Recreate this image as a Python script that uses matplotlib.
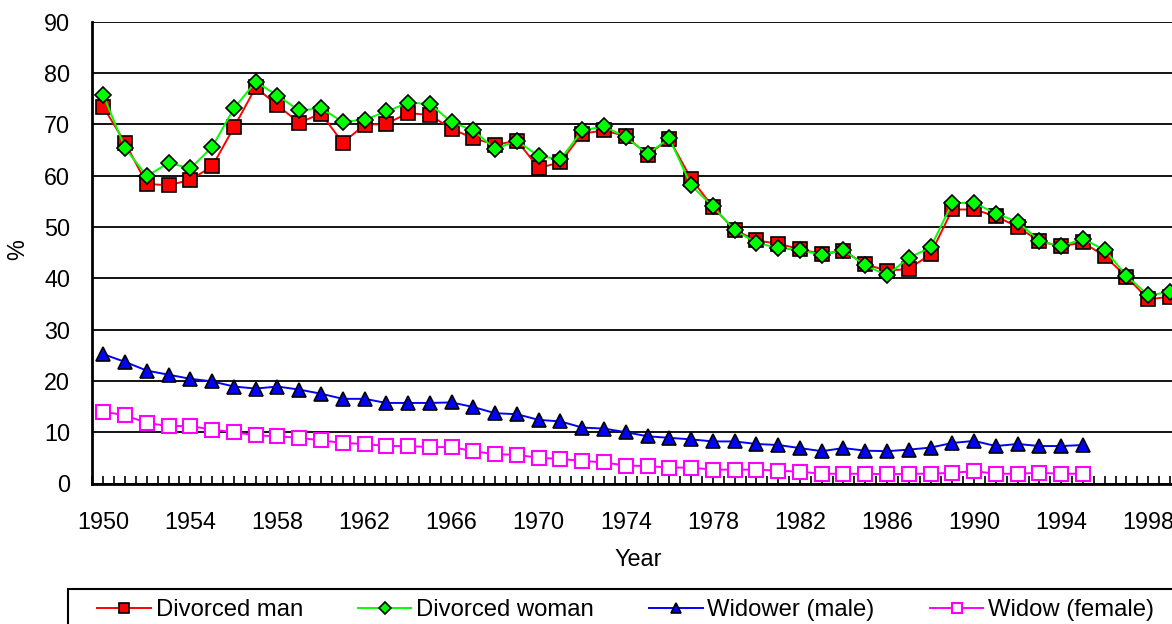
import numpy as np
import matplotlib
matplotlib.use('Agg')
import matplotlib.pyplot as plt
from matplotlib.patches import Rectangle
from matplotlib.ticker import MultipleLocator

plt.rcParams['font.family'] = ['Liberation Sans', 'DejaVu Sans']

years = list(range(1950, 2000))
years_widowed = list(range(1950, 1996))

divorced_man = [73.4, 66.4, 58.4, 58.1, 59.2, 61.8, 69.4, 77.2, 73.7, 70.3,
                72.1, 66.4, 69.9, 70.1, 72.2, 71.8, 69.1, 67.3, 66.0, 66.8,
                61.5, 62.6, 68.2, 68.8, 67.7, 64.1, 67.1, 59.4, 53.9, 49.4,
                47.4, 46.7, 45.7, 44.7, 45.4, 42.7, 41.5, 41.8, 44.7, 53.4,
                53.4, 52.1, 50.0, 47.2, 46.2, 47.0, 44.3, 40.3, 35.9, 36.4]
divorced_woman = [75.7, 65.4, 59.9, 62.5, 61.4, 65.6, 73.1, 78.3, 75.6, 72.7,
                  73.1, 70.5, 70.9, 72.5, 74.2, 74.0, 70.4, 68.8, 65.2, 66.8,
                  63.8, 63.2, 68.8, 69.6, 67.5, 64.2, 67.3, 58.1, 54.0, 49.4,
                  46.9, 45.9, 45.5, 44.6, 45.5, 42.5, 40.6, 44.0, 46.0, 54.7,
                  54.7, 52.6, 51.0, 47.3, 46.2, 47.7, 45.5, 40.5, 36.7, 37.3]
widower = [25.2, 23.7, 22.0, 21.2, 20.4, 19.9, 18.9, 18.5, 18.9, 18.3,
           17.5, 16.5, 16.5, 15.7, 15.7, 15.7, 15.8, 14.9, 13.7, 13.5,
           12.4, 12.1, 10.9, 10.7, 10.0, 9.2, 8.9, 8.6, 8.2, 8.2,
           7.7, 7.5, 6.9, 6.3, 6.9, 6.4, 6.3, 6.6, 7.0, 7.9,
           8.3, 7.3, 7.7, 7.3, 7.3, 7.5]
widow = [14.0, 13.3, 11.8, 11.2, 11.2, 10.5, 10.0, 9.4, 9.2, 8.9,
         8.4, 7.9, 7.7, 7.3, 7.3, 7.1, 7.1, 6.3, 5.7, 5.6,
         5.0, 4.8, 4.4, 4.1, 3.5, 3.4, 3.1, 3.1, 2.7, 2.7,
         2.7, 2.5, 2.3, 1.9, 1.9, 1.9, 1.8, 1.9, 1.9, 2.1,
         2.4, 1.9, 1.9, 2.1, 1.9, 1.9]

W, H = 1172, 624
fig = plt.figure(figsize=(W / 100, H / 100), dpi=100)

# pixel layout; the right part of the plot runs off the image
px_per_year = 21.77
x0, y_top, y_bot = 92.4, 21.7, 483.5
x_max = 2002.5
ax = fig.add_axes([x0 / W, 1 - y_bot / H, (x_max - 1949.5) * px_per_year / W, (y_bot - y_top) / H])

fs = 16.8
lw = 1.4
ax.plot(years, divorced_man, '-', color='#ff0000', lw=lw, marker='s', ms=9.4,
        mfc='#ff0000', mec='black', mew=1.2, label='Divorced man', zorder=4)
ax.plot(years, divorced_woman, '-', color='#00ff00', lw=lw, marker='D', ms=8,
        mfc='#00ff00', mec='black', mew=1.2, label='Divorced woman', zorder=5)
ax.plot(years_widowed, widower, '-', color='#0000ff', lw=lw, marker='^', ms=10.5,
        mfc='#0000ff', mec='black', mew=1.2, label='Widower (male)', zorder=4)
ax.plot(years_widowed, widow, '-', color='#ff00ff', lw=lw, marker='s', ms=9.4,
        mfc='white', mec='#ff00ff', mew=1.5, label='Widow (female)', zorder=4)

ax.set_xlim(1949.5, x_max)
ax.set_ylim(0, 90)
ax.set_yticks(range(0, 91, 10))
ax.yaxis.grid(True, color='black', lw=1.3)
ax.set_axisbelow(True)

ax.set_xticks(range(1950, 2003, 4))
ax.xaxis.set_minor_locator(MultipleLocator(0.5))
ax.tick_params(axis='x', which='both', direction='in', length=6, width=1.2,
               labelsize=fs, pad=20)
ax.tick_params(axis='y', length=0, labelsize=fs, pad=16)

for s in ['top', 'right']:
    ax.spines[s].set_visible(False)
for s in ['left', 'bottom']:
    ax.spines[s].set_linewidth(2)

fig.text(638 / W, 1 - 560 / H, 'Year', ha='center', va='center', fontsize=fs)
fig.text(18 / W, 1 - 250 / H, '%', ha='center', va='center', fontsize=fs, rotation=90)

# legend frame runs off the bottom/right edge
fig.patches.append(Rectangle((68 / W, -0.1), 1.2, 0.1 + (H - 589) / H, transform=fig.transFigure,
                             fill=False, edgecolor='black', lw=1.5))
handles, labels = ax.get_legend_handles_labels()
fig.legend(handles, labels, loc='center left', bbox_to_anchor=(97 / W, 1 - 610 / H),
           ncol=4, frameon=False, fontsize=17.2, handlelength=2.25, handletextpad=0.2,
           columnspacing=2.3, borderpad=0, borderaxespad=0, markerscale=0.75)

fig.savefig('out.png', dpi=100)
